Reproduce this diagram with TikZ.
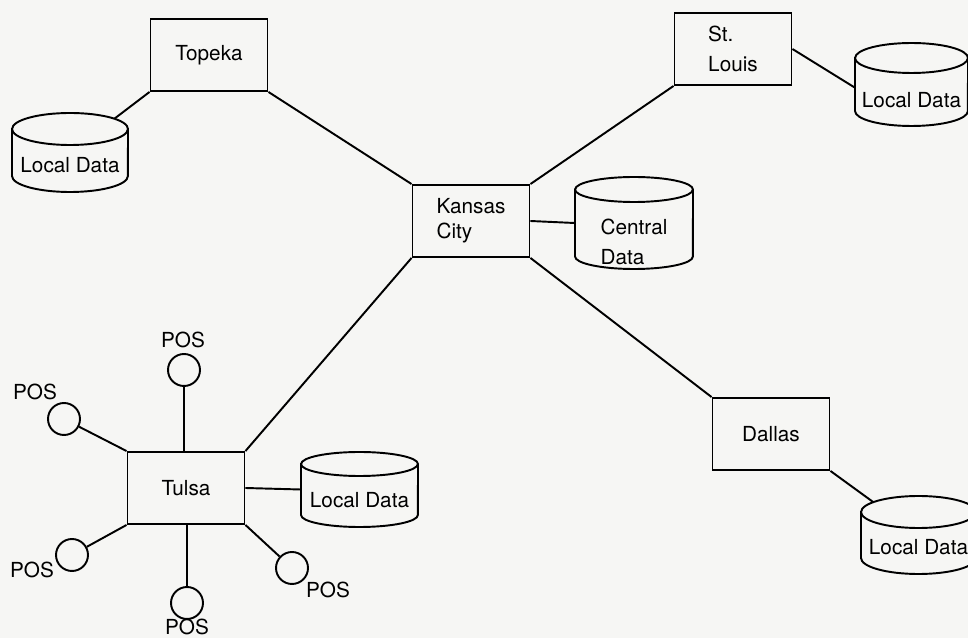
\documentclass[tikz,border=0pt]{standalone}
\usepackage{fontspec}
\setmainfont{TeX Gyre Heros}
\usetikzlibrary{backgrounds}
\definecolor{paper}{RGB}{246,246,244}
\newcommand\lbl{\fontsize{11.8}{14}\selectfont}
\tikzset{
  wire/.style={line width=1.1pt, black},
  dbline/.style={line width=1.1pt, fill=paper},
  cityBox/.style={draw, line width=1.1pt, fill=paper, minimum width=2.34cm,
    minimum height=1.44cm, inner sep=0pt, align=left, font=\lbl},
  posTerm/.style={draw, circle, line width=1.1pt, fill=paper, minimum size=0.64cm, inner sep=0pt},
  posLbl/.style={font=\lbl, inner sep=0pt},
}
% database drum: name, left, right, top, bottom, ellipse half-height, text y, text
\newcommand\dbcyl[8]{%
  \pgfmathsetmacro\cylrx{(#3-#2)*0.01}%
  \pgfmathsetmacro\cylry{#6*0.02}%
  \pgfmathsetmacro\cylw{(#3-#2)*0.02}%
  \pgfmathsetmacro\cylh{(#5-#4)*0.02}%
  \node[inner sep=0pt, minimum width=\cylw cm, minimum height=\cylh cm] (#1) at ({(#2+#3)/2},{(#4+#5)/2}) {};%
  \draw[dbline] (#2,#4+#6) -- (#2,#5-#6)
     arc[start angle=180, end angle=360, x radius=\cylrx cm, y radius=\cylry cm]
     -- (#3,#4+#6)
     arc[start angle=0, end angle=180, x radius=\cylrx cm, y radius=\cylry cm] -- cycle;%
  \draw[line width=1.1pt] (#2,#4+#6)
     arc[start angle=180, end angle=360, x radius=\cylrx cm, y radius=\cylry cm];%
  \node[font=\lbl, align=left, inner sep=0pt] (#1-lbl) at ({(#2+#3)/2},#7) {#8};%
}
\begin{document}
\begin{tikzpicture}[x=0.02cm, y=-0.02cm]
\useasboundingbox (0,0) rectangle (968,638);
\clip (0,0) rectangle (968,638);

% sites
\node[cityBox] (topeka) at (209,55) {Topeka};
\node[cityBox] (kc) at (471,221) {Kansas\\City};
\node[cityBox] (stl) at (733,49) {St.\\[3pt]Louis};
\node[cityBox] (dallas) at (771,434) {Dallas};
\node[cityBox] (tulsa) at (186,488) {Tulsa};

% data stores
\dbcyl{topekaDB}{12}{128}{113}{192}{16}{165}{Local Data}
\dbcyl{centralDB}{575}{693}{177}{269}{12.5}{242}{Central\\[3.5pt]Data}
\dbcyl{stlDB}{855}{968}{43}{126}{15}{100}{Local Data}
\dbcyl{dallasDB}{861}{976}{496}{574}{16}{547}{Local Data}
\dbcyl{tulsaDB}{301}{418}{452}{527}{12}{500}{Local Data}

% point-of-sale terminals around Tulsa
\node[posTerm] (p1) at (184,370) {};
\node[posTerm] (p2) at (64,419) {};
\node[posTerm] (p3) at (72,555) {};
\node[posTerm] (p4) at (187,603) {};
\node[posTerm] (p5) at (292,568) {};
\node[posLbl] (p1l) at (183,340) {POS};
\node[posLbl] (p2l) at (35,392) {POS};
\node[posLbl] (p3l) at (32,570) {POS};
\node[posLbl] (p4l) at (187,627) {POS};
\node[posLbl] (p5l) at (328,590) {POS};

\begin{scope}[on background layer]
  \fill[paper] (0,0) rectangle (968,638);
  % backbone
  \draw[wire] (topeka.south east) -- (kc.north west);
  \draw[wire] (kc.north east) -- (stl.south west);
  \draw[wire] (kc.south east) -- (dallas.north west);
  \draw[wire] (kc.south west) -- (tulsa.north east);
  % local stores
  \draw[wire] (topeka.south west) -- (topekaDB.center);
  \draw[wire] (kc.east) -- (centralDB.west);
  \draw[wire] (stl.east) -- ([yshift=-0.06cm]stlDB.west);
  \draw[wire] (dallas.south east) -- (dallasDB.center);
  \draw[wire] (tulsa.east) -- (tulsaDB.west);
  % terminals
  \draw[wire] (p1) -- (p1 |- tulsa.north);
  \draw[wire] (tulsa.north west) -- (p2);
  \draw[wire] (tulsa.south west) -- (p3);
  \draw[wire] (p4) -- (p4 |- tulsa.south);
  \draw[wire] (tulsa.south east) -- (p5);
\end{scope}
\end{tikzpicture}
\end{document}
